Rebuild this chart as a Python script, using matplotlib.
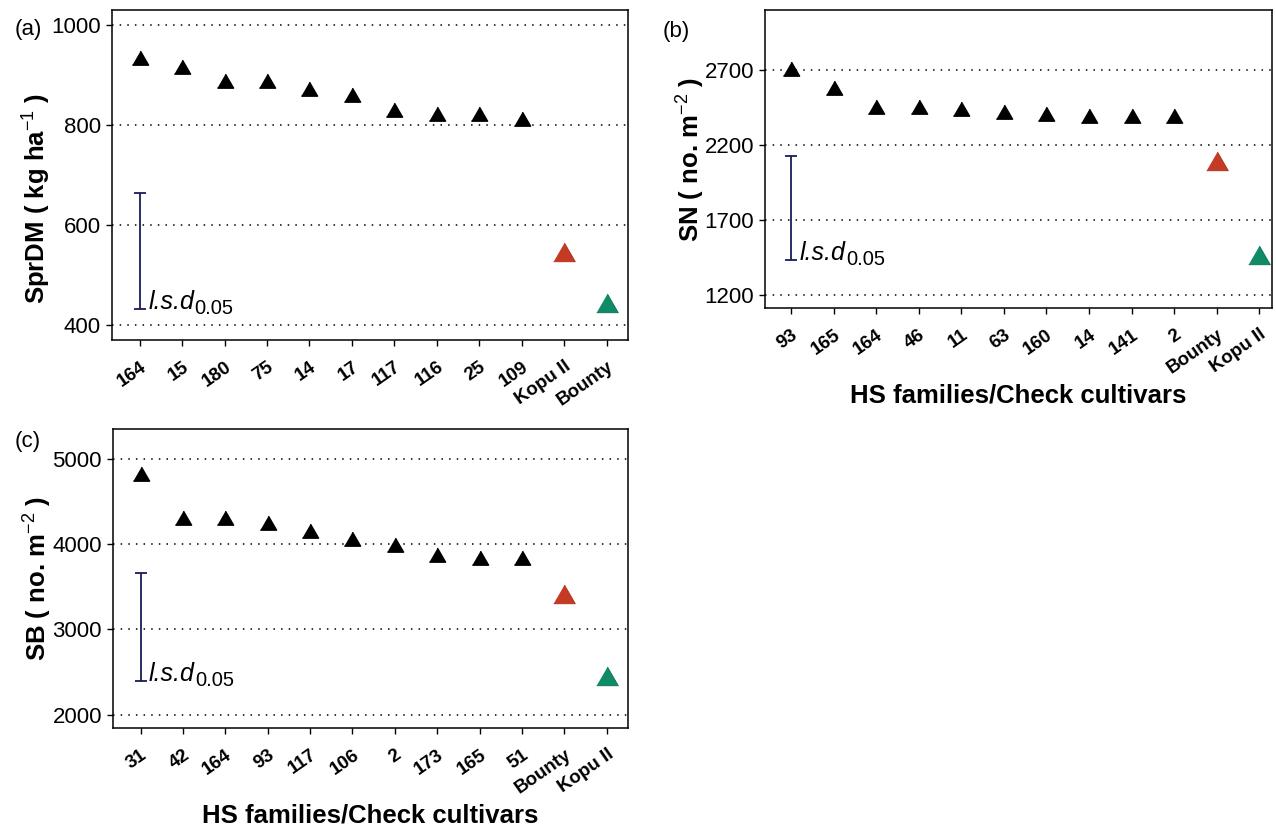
import numpy as np
import matplotlib.pyplot as plt

plt.rcParams['font.family'] = ['Liberation Sans', 'DejaVu Sans']
plt.rcParams['mathtext.fontset'] = 'custom'
plt.rcParams['mathtext.rm'] = 'Liberation Sans'
plt.rcParams['mathtext.it'] = 'Liberation Sans:italic'
plt.rcParams['mathtext.bf'] = 'Liberation Sans:bold'

# panel (a) SprDM
labels_a = ['164', '15', '180', '75', '14', '17', '117', '116', '25', '109', 'Kopu II', 'Bounty']
values_a = [931, 913, 884, 884, 868, 856, 826, 819, 819, 809, 541, 439]
lsd_a = [432, 665]

# panel (b) SN
labels_b = ['93', '165', '164', '46', '11', '63', '160', '14', '141', '2', 'Bounty', 'Kopu II']
values_b = [2698, 2571, 2442, 2445, 2429, 2407, 2397, 2380, 2380, 2380, 2075, 1447]
lsd_b = [1435, 2131]

# panel (c) SB
labels_c = ['31', '42', '164', '93', '117', '106', '2', '173', '165', '51', 'Bounty', 'Kopu II']
values_c = [4800, 4286, 4286, 4231, 4137, 4035, 3972, 3855, 3816, 3816, 3376, 2412]
lsd_c = [2392, 3663]

RED = '#C43A22'
GREEN = '#0F8B68'
NAVY = '#1A1A5A'

# equilateral triangle centred on its centroid
tri = [(-1, -0.577), (1, -0.577), (0, 1.155)]

W, H = 1276, 826
fig = plt.figure(figsize=(W / 100, H / 100), dpi=100)


def panel(rect, labels, values, lsd, ylim, yticks, ylabel, xlim, xlabel=None, ylab_y=0.5):
    ax = fig.add_axes([rect[0] / W, 1 - rect[3] / H,
                       (rect[2] - rect[0]) / W, (rect[3] - rect[1]) / H])
    x = np.arange(1, len(labels) + 1)
    ax.plot(x[:10], values[:10], linestyle='none', marker=tri,
            markersize=13.5, color='black', zorder=3)
    ax.plot(x[10], values[10], linestyle='none', marker=tri,
            markersize=18, color=RED, mec='#A82E1A', mew=0.6, zorder=3)
    ax.plot(x[11], values[11], linestyle='none', marker=tri,
            markersize=18, color=GREEN, mec='#0B6E52', mew=0.6, zorder=3)
    mid = (lsd[0] + lsd[1]) / 2
    ax.errorbar(1, mid, yerr=(lsd[1] - lsd[0]) / 2, color=NAVY,
                linewidth=1.3, capsize=4.5, capthick=1.3, zorder=2)
    t = ax.text(1.2, lsd[0], 'l.s.d', fontsize=18, fontstyle='italic',
                va='baseline', ha='left')
    ax.annotate('0.05', xy=(1, 0), xycoords=t, xytext=(0.5, 0),
                textcoords='offset points', fontsize=14.5, va='baseline', ha='left')
    ax.set_xlim(*xlim)
    ax.set_ylim(*ylim)
    ax.set_yticks(yticks)
    ax.set_xticks(x)
    ax.set_xticklabels(labels, rotation=35, ha='right', va='top',
                       rotation_mode='anchor', fontweight='bold', fontsize=13.5)
    ax.grid(axis='y', color='black', linestyle=(0, (1, 4)), linewidth=1.1)
    ax.set_axisbelow(True)
    ax.tick_params(axis='y', labelsize=16, length=4, width=1, pad=4)
    ax.tick_params(axis='x', length=4, width=1, pad=9)
    for s in ax.spines.values():
        s.set_linewidth(1.1)
    ax.set_ylabel(ylabel, fontsize=18.5, fontweight='bold')
    ax.yaxis.set_label_coords(-0.115, ylab_y)
    if xlabel:
        ax.set_xlabel(xlabel, fontsize=18.5, fontweight='bold', labelpad=5)
    return ax


panel((112, 10, 628, 340), labels_a, values_a, lsd_a, (370, 1031),
      [400, 600, 800, 1000], r'SprDM ( kg ha$^{-1}$ )', (0.35, 12.5), ylab_y=0.43)
panel((765, 10, 1272, 308), labels_b, values_b, lsd_b, (1115, 3102),
      [1200, 1700, 2200, 2700], r'SN ( no. m$^{-2}$ )', (0.39, 12.3),
      'HS families/Check cultivars')
panel((113, 429, 628, 728), labels_c, values_c, lsd_c, (1842, 5353),
      [2000, 3000, 4000, 5000], r'SB ( no. m$^{-2}$ )', (0.35, 12.5),
      'HS families/Check cultivars')

fig.text(15 / W, 1 - 29 / H, '(a)', fontsize=16, va='center', ha='left')
fig.text(663 / W, 1 - 31 / H, '(b)', fontsize=16, va='center', ha='left')
fig.text(15 / W, 1 - 442 / H, '(c)', fontsize=16, va='center', ha='left')

fig.savefig('out.png', dpi=100)
